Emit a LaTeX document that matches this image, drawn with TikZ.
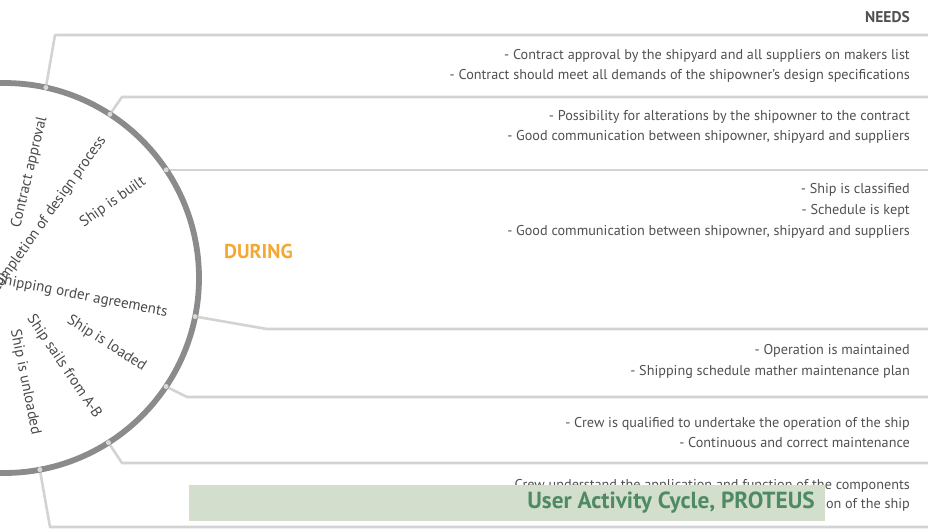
\documentclass[tikz,border=0pt]{standalone}
\usepackage{fontspec}
\setmainfont{PT Sans}
\usetikzlibrary{calc}
\definecolor{arcgray}{HTML}{8B8B8E}
\definecolor{linegray}{HTML}{D3D3D3}
\definecolor{dotcol}{HTML}{D6DDD0}
\definecolor{txt}{HTML}{505050}
\definecolor{lbl}{HTML}{4A4A4C}
\definecolor{during}{HTML}{F5A733}
\definecolor{bannerfill}{HTML}{D3DFCC}
\definecolor{titlegreen}{HTML}{4E8A63}
\begin{document}
\begin{tikzpicture}[x=1pt,y=-1pt,
  conn/.style={draw=linegray, line width=2.6pt, line join=round},
  dotmark/.style={circle, fill=dotcol, inner sep=0pt, minimum size=5pt},
  need/.style={anchor=east, align=right, text=txt, inner sep=0pt, font=\fontsize{14.2}{20.8}\selectfont},
  lab/.style={anchor=east, text=lbl, inner sep=0pt, font=\fontsize{15}{18}\selectfont},
]
\useasboundingbox (0,0) rectangle (928,528);
\clip (0,0) rectangle (928,528);
\coordinate (c) at (4,278);
% dots on the arc
\node[dotmark] (d1) at ($(c)+(-77.6:195)$) {};
\node[dotmark] (d2) at ($(c)+(-57.1:195)$) {};
\node[dotmark] (d3) at ($(c)+(-33.7:195)$) {};
\node[dotmark] (d4) at ($(c)+(11.4:195)$) {};
\node[dotmark] (d5) at ($(c)+(33.8:195)$) {};
\node[dotmark] (d6) at ($(c)+(57.6:195)$) {};
\node[dotmark] (d7) at ($(c)+(79.4:195)$) {};
% bends and ends
\coordinate (b1) at (55,35);   \coordinate (e1) at (930,35);
\coordinate (b2) at (122,97);  \coordinate (e2) at (930,97);
\coordinate (e3) at (930,168);
\coordinate (b4) at (267,329); \coordinate (e4) at (930,329);
\coordinate (b5) at (187,397); \coordinate (e5) at (930,397);
\coordinate (b6) at (122,463); \coordinate (e6) at (930,463);
\coordinate (b7) at (50,527);  \coordinate (e7) at (930,527);
\draw[conn] (d1.center) -- (b1) -- (e1);
\draw[conn] (d2.center) -- (b2) -- (e2);
\draw[conn] (d3.center) -- (d3.center -| e3) -- (e3);
\draw[conn] (d4.center) -- (b4) -- (e4);
\draw[conn] (d5.center) -- (b5) -- (e5);
\draw[conn] (d6.center) -- (b6) -- (e6);
\draw[conn] (d7.center) -- (b7) -- (e7);
% arc
\draw[arcgray, line width=5.8pt] (c) circle (195pt);
\foreach \i in {1,...,7} {\fill[dotcol] (d\i) circle (2.5pt);}
% circle labels
\node[lab, rotate=76.4] (l1) at ($(c)+(-76.4:166)$) {Contract approval};
\node[lab, rotate=54.7] (l2) at ($(c)+(-54.7:172)$) {Completion of design process};
\node[lab, rotate=34.8] (l3) at ($(c)+(-34.8:171)$) {Ship is built};
\node[lab, rotate=-11] (l4) at ($(c)+(12:167)$) {Shipping order agreements};
\node[lab, rotate=-32.5] (l5) at ($(c)+(32.5:167)$) {Ship is loaded};
\node[lab, rotate=-55.9] (l6) at ($(c)+(55.9:168)$) {Ship sails from A-B};
\node[lab, rotate=-78.5] (l7) at ($(c)+(78.5:160)$) {Ship is unloaded};
% headings
\node[anchor=east, inner sep=0pt, text=txt, font=\bfseries\fontsize{15.5}{18}\selectfont] (needs) at (910,17) {NEEDS};
\node[anchor=west, inner sep=0pt, text=during, font=\bfseries\fontsize{20}{24}\selectfont] (duringlbl) at (224,251) {DURING};
% needs blocks
\node[need] (n1) at (910,66) {- Contract approval by the shipyard and all suppliers on makers list\\- Contract should meet all demands of the shipowner’s design specifications};
\node[need] (n2) at (910,127) {- Possibility for alterations by the shipowner to the contract\\- Good communication between shipowner, shipyard and suppliers};
\node[need] (n3) at (910,211) {- Ship is classified\\- Schedule is kept\\- Good communication between shipowner, shipyard and suppliers};
\node[need] (n4) at (910,361.5) {- Operation is maintained\\- Shipping schedule mather maintenance plan};
\node[need] (n5) at (910,432.5) {- Crew is qualified to undertake the operation of the ship\\- Continuous and correct maintenance};
\node[need] (n6a) at (910,486) {Crew understand the application and function of the components};
\node[need] (n6b) at (910,505) {on of the ship};
% banner
\node[fill=bannerfill, minimum width=636pt, minimum height=36pt, inner sep=0pt] (banner) at (507,503) {};
\node[anchor=east, inner sep=0pt, text=titlegreen, font=\bfseries\fontsize{23.3}{27}\selectfont] (title) at (815,503) {User Activity Cycle, PROTEUS};
\end{tikzpicture}
\end{document}
